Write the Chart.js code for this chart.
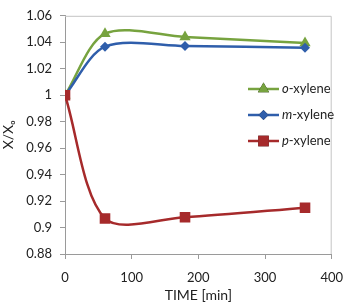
<!DOCTYPE html>
<html lang="en">
<head>
  <meta charset="UTF-8"/>
  <title>Xylene ratio vs time</title>
  <script src="https://cdn.jsdelivr.net/npm/chart.js"></script>
  <style>
    body {
      margin: 0;
      background: #fff;
    }
    #wrap {
      width: 354px;
      height: 304px;
    }
  </style>
</head>
<body>
  <div id="wrap">
    <canvas id="xyleneChart" width="354" height="304"></canvas>
  </div>

  <script>
    // data
    const times = [0, 60, 180, 360];
    const oXylene = [1.0, 1.0465, 1.044, 1.0395];
    const mXylene = [1.0, 1.0367, 1.0372, 1.0358];
    const pXylene = [1.0, 0.9068, 0.9078, 0.915];

    const seriesNames = ["o", "m", "p"];
    const yTicks = [0.88, 0.9, 0.92, 0.94, 0.96, 0.98, 1, 1.02, 1.04, 1.06];
    const xTicks = [0, 100, 200, 300, 400];

    const green = "#77a33f";
    const blue = "#2f5eab";
    const red = "#a62a2b";
    const font = "Lato, 'Open Sans', sans-serif";

    function pts(vals) {
      return times.map((t, i) => ({ x: t, y: vals[i] }));
    }

    // box round the plot area
    const frame = {
      id: "frame",
      beforeDatasetsDraw(chart) {
        const a = chart.chartArea;
        const ctx = chart.ctx;
        ctx.save();
        ctx.strokeStyle = "#c4c4c4";
        ctx.lineWidth = 1;
        ctx.beginPath();
        ctx.moveTo(a.left, a.top + 0.5);
        ctx.lineTo(a.right - 0.5, a.top + 0.5);
        ctx.lineTo(a.right - 0.5, a.bottom);
        ctx.stroke();
        ctx.restore();
      }
    };

    // legend with italic prefix
    const xyLegend = {
      id: "xyLegend",
      afterDraw(chart) {
        const ctx = chart.ctx;
        ctx.save();
        chart.data.datasets.forEach((ds, i) => {
          const y = 89 + i * 26;
          const x0 = 248, x1 = 279;
          ctx.strokeStyle = ds.borderColor;
          ctx.lineWidth = 2.5;
          ctx.beginPath();
          ctx.moveTo(x0, y);
          ctx.lineTo(x1, y);
          ctx.stroke();
          Chart.helpers.drawPoint(ctx, {
            pointStyle: ds.pointStyle,
            radius: ds.pointRadius,
            borderWidth: 0
          }, (x0 + x1) / 2, y);
          ctx.fillStyle = ds.borderColor;
          ctx.fill();
          ctx.fillStyle = "#222";
          ctx.textBaseline = "middle";
          ctx.font = "italic 13px " + font;
          ctx.fillText(seriesNames[i], 282, y);
          const w = ctx.measureText(seriesNames[i]).width;
          ctx.font = "13px " + font;
          ctx.fillText("-xylene", 282 + w, y);
        });
        ctx.restore();
      }
    };

    function makeSet(label, vals, color, style, r, order) {
      return {
        label: label,
        data: pts(vals),
        order: order,
        borderColor: color,
        backgroundColor: color,
        pointBackgroundColor: color,
        pointBorderColor: color,
        pointBorderWidth: 0,
        borderWidth: 2.5,
        pointStyle: style,
        pointRadius: r,
        pointHoverRadius: r,
        tension: 0.3
      };
    }

    new Chart(document.getElementById("xyleneChart"), {
      type: "line",
      data: {
        datasets: [
          makeSet("o-xylene", oXylene, green, "triangle", 6.5, 2),
          makeSet("m-xylene", mXylene, blue, "rectRot", 5, 1),
          makeSet("p-xylene", pXylene, red, "rect", 7.5, 0)
        ]
      },
      options: {
        responsive: false,
        animation: false,
        layout: { padding: { left: 0, top: 12, right: 13, bottom: 0 } },
        plugins: {
          legend: { display: false },
          tooltip: { enabled: false }
        },
        scales: {
          x: {
            type: "linear",
            min: 0,
            max: 400,
            afterBuildTicks: s => { s.ticks = xTicks.map(v => ({ value: v })); },
            afterFit: s => { s.height = 50; },
            grid: { drawOnChartArea: false, tickLength: 5, color: "#9a9a9a" },
            border: { color: "#9a9a9a" },
            ticks: { color: "#222", font: { family: font, size: 13 }, padding: 11 },
            title: {
              display: true,
              text: "TIME [min]",
              color: "#222",
              font: { family: font, size: 14 },
              padding: { top: 0, bottom: 0 }
            }
          },
          y: {
            min: 0.88,
            max: 1.06,
            afterBuildTicks: s => { s.ticks = yTicks.map(v => ({ value: v })); },
            afterFit: s => { s.width = 65; },
            grid: { drawOnChartArea: false, tickLength: 5, color: "#9a9a9a" },
            border: { color: "#9a9a9a" },
            ticks: {
              color: "#222",
              font: { family: font, size: 13 },
              padding: 8,
              callback: v => String(parseFloat(v.toFixed(2)))
            },
            title: {
              display: true,
              text: "X/Xₒ",
              color: "#222",
              font: { family: font, size: 14 },
              padding: { top: 0, bottom: 0 }
            }
          }
        }
      },
      plugins: [frame, xyLegend]
    });
  </script>
</body>
</html>
